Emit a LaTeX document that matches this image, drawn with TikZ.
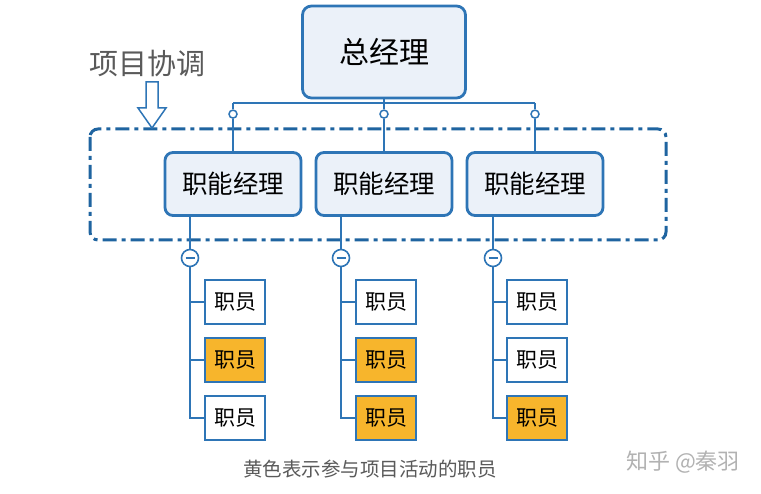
\documentclass[tikz,border=0pt]{standalone}
\usepackage{fontspec}
\setmainfont{Noto Sans CJK SC}
\usetikzlibrary{calc,backgrounds}

\definecolor{lineblue}{HTML}{2E75B6}
\definecolor{frameblue}{HTML}{1F64A0}
\definecolor{boxfill}{HTML}{EBF1F9}
\definecolor{staffyellow}{HTML}{F7B52C}
\definecolor{notegray}{HTML}{5A5A5A}

\tikzset{
  chief/.style={draw=lineblue, line width=2.8pt, fill=boxfill, rounded corners=9pt,
    minimum width=163pt, minimum height=92pt, inner sep=0pt, font=\fontsize{30}{32}\selectfont},
  manager/.style={draw=lineblue, line width=2.8pt, fill=boxfill, rounded corners=8pt,
    minimum width=136pt, minimum height=63pt, inner sep=0pt, font=\fontsize{25.5}{28}\selectfont},
  staff/.style={draw=lineblue, line width=2.2pt, fill=white,
    minimum width=60pt, minimum height=44pt, inner sep=0pt, font=\fontsize{21}{23}\selectfont},
  active/.style={staff, fill=staffyellow},
  link/.style={draw=lineblue, line width=2.2pt},
  knob/.style={circle, draw=lineblue, line width=1.5pt, fill=white, minimum size=8pt, inner sep=0pt},
  fold/.style={circle, draw=lineblue, line width=1.6pt, fill=white, minimum size=17pt, inner sep=0pt}
}

\begin{document}
\begin{tikzpicture}[x=1pt,y=-1pt]
\useasboundingbox[fill=white] (0,0) rectangle (761,494);

% project frame
\draw[frameblue, line width=3pt, rounded corners=8pt,
  dash pattern=on 14pt off 5pt on 4pt off 5pt] (90,129) rectangle (666,240);

\node[chief] (gm) at (384,52) {总经理};
\node[manager] (fm1) at (233,184) {职能经理};
\node[manager] (fm2) at (384,184) {职能经理};
\node[manager] (fm3) at (535,184) {职能经理};

\coordinate (bar) at (384,103);
\draw[link] (gm.south) -- (bar);
\draw[link] (fm1.north |- bar) -- (fm3.north |- bar);
\foreach \i in {1,2,3}{
  \node[knob] (k\i) at ($(fm\i.north)+(0,-37)$) {};
  \draw[link] (fm\i.north |- bar) -- (k\i.north);
  \draw[link] (k\i.south) -- (fm\i.north);
}

% staff columns
\node[staff]  (e11) at (235,302) {职员};
\node[active] (e12) at (235,360) {职员};
\node[staff]  (e13) at (235,418) {职员};
\node[staff]  (e21) at (386,302) {职员};
\node[active] (e22) at (386,360) {职员};
\node[active] (e23) at (386,418) {职员};
\node[staff]  (e31) at (537,302) {职员};
\node[staff]  (e32) at (537,360) {职员};
\node[active] (e33) at (537,418) {职员};

\foreach \i/\x in {1/190,2/341,3/493}{
  \node[fold] (m\i) at (\x,258) {};
  \draw[lineblue, line width=2pt] ($(m\i)+(-4.5,0)$) -- ($(m\i)+(4.5,0)$);
  \draw[link] (m\i.north) -- (m\i |- fm\i.south);
  \draw[link] (m\i.south) |- (e\i3.west);
  \draw[link] (m\i |- e\i1.west) -- (e\i1.west);
  \draw[link] (m\i |- e\i2.west) -- (e\i2.west);
}

% project coordination label and arrow
\node[text=notegray, font=\fontsize{29}{32}\selectfont] (pc) at (147,63) {项目协调};
\draw[lineblue, line width=1.5pt, fill=white]
  (146,82) -- (158,82) -- (158,108) -- (166,108) -- (152,128) -- (138,108) -- (146,108) -- cycle;

\node[text=notegray, font=\fontsize{19.5}{22}\selectfont] (note) at (370,469) {黄色表示参与项目活动的职员};
\node[text=black!30, font=\fontsize{22}{24}\selectfont] (mark) at (683,462) {知乎 @秦羽};
\end{tikzpicture}
\end{document}
